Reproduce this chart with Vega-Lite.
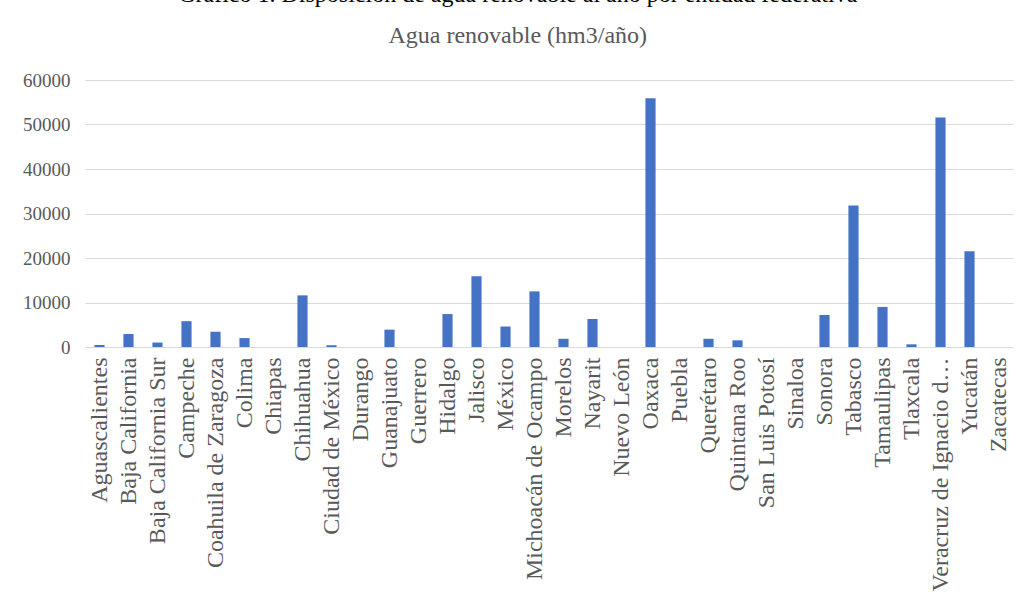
{
  "$schema": "https://vega.github.io/schema/vega-lite/v6.json",
  "width": 1026,
  "height": 602,
  "autosize": {"type": "fit", "contains": "padding"},
  "padding": {"top": -17, "left": 22, "right": 13, "bottom": 11},
  "background": "white",
  "title": {
    "text": "Gráfico 1. Disposición de agua renovable al año por entidad federativa",
    "subtitle": "Agua renovable (hm3/año)",
    "font": "Liberation Serif",
    "fontSize": 24,
    "fontWeight": "normal",
    "color": "#000000",
    "subtitleFont": "Liberation Serif",
    "subtitleFontSize": 24,
    "subtitleColor": "#595959",
    "subtitlePadding": 17,
    "anchor": "middle",
    "frame": "bounds",
    "offset": 23
  },
  "data": {
    "values": [
      {"entidad": "Aguascalientes", "agua": 450},
      {"entidad": "Baja California", "agua": 2900},
      {"entidad": "Baja California Sur", "agua": 1000},
      {"entidad": "Campeche", "agua": 5800},
      {"entidad": "Coahuila de Zaragoza", "agua": 3400},
      {"entidad": "Colima", "agua": 2000},
      {"entidad": "Chiapas", "agua": 0},
      {"entidad": "Chihuahua", "agua": 11600},
      {"entidad": "Ciudad de México", "agua": 400},
      {"entidad": "Durango", "agua": 0},
      {"entidad": "Guanajuato", "agua": 3900},
      {"entidad": "Guerrero", "agua": 0},
      {"entidad": "Hidalgo", "agua": 7400},
      {"entidad": "Jalisco", "agua": 15900},
      {"entidad": "México", "agua": 4600},
      {"entidad": "Michoacán de Ocampo", "agua": 12500},
      {"entidad": "Morelos", "agua": 1850},
      {"entidad": "Nayarit", "agua": 6300},
      {"entidad": "Nuevo León", "agua": 0},
      {"entidad": "Oaxaca", "agua": 55900},
      {"entidad": "Puebla", "agua": 0},
      {"entidad": "Querétaro", "agua": 1850},
      {"entidad": "Quintana Roo", "agua": 1500},
      {"entidad": "San Luis Potosí", "agua": 0},
      {"entidad": "Sinaloa", "agua": 0},
      {"entidad": "Sonora", "agua": 7200},
      {"entidad": "Tabasco", "agua": 31800},
      {"entidad": "Tamaulipas", "agua": 9000},
      {"entidad": "Tlaxcala", "agua": 600},
      {"entidad": "Veracruz de Ignacio de la Llave", "agua": 51600},
      {"entidad": "Yucatán", "agua": 21500},
      {"entidad": "Zacatecas", "agua": 0}
    ]
  },
  "mark": {"type": "bar", "color": "#4472C4"},
  "encoding": {
    "x": {
      "field": "entidad",
      "type": "nominal",
      "sort": null,
      "scale": {"paddingInner": 0.65, "paddingOuter": 0.325},
      "axis": {
        "title": null,
        "labelAngle": -90,
        "labelAlign": "right",
        "labelBaseline": "middle",
        "labelFont": "Liberation Serif",
        "labelFontSize": 24,
        "labelColor": "#595959",
        "labelLimit": 236,
        "labelPadding": 10,
        "ticks": false,
        "domain": false,
        "grid": false
      }
    },
    "y": {
      "field": "agua",
      "type": "quantitative",
      "scale": {"domain": [0, 60000]},
      "axis": {
        "title": null,
        "values": [0, 10000, 20000, 30000, 40000, 50000, 60000],
        "format": "d",
        "labelFont": "Liberation Serif",
        "labelFontSize": 19,
        "labelColor": "#595959",
        "labelPadding": 15,
        "ticks": false,
        "domain": false,
        "grid": true,
        "gridColor": "#d9d9d9",
        "gridWidth": 1
      }
    }
  },
  "config": {
    "view": {"stroke": null}
  }
}
